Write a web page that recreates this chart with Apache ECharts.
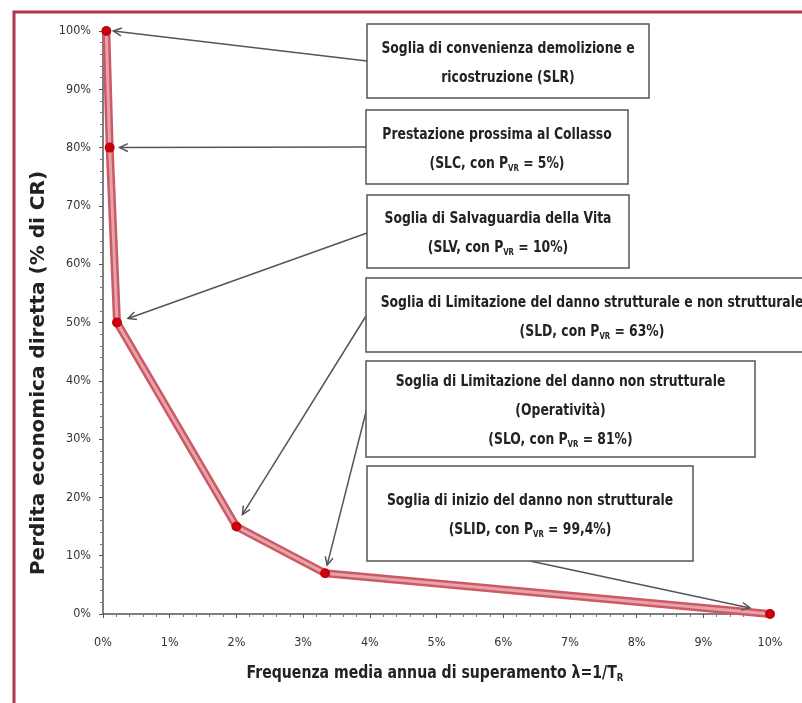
<!DOCTYPE html>
<html>
<head>
<meta charset="utf-8">
<script src="https://cdn.jsdelivr.net/npm/echarts@6/dist/echarts.min.js"></script>
<style>
html,body{margin:0;padding:0;background:#fff;}
#chart{width:802px;height:703px;}
</style>
</head>
<body>
<div id="chart"></div>
<script>
// ---- data ----
const freqValues = [0.05, 0.1, 0.21, 2, 3.33, 10];      // λ = 1/T_R (%)
const lossValues = [100, 80, 50, 15, 7, 0];             // % di CR
const xTickValues = [0, 1, 2, 3, 4, 5, 6, 7, 8, 9, 10];
const yTickValues = [0, 10, 20, 30, 40, 50, 60, 70, 80, 90, 100];
const boxLines = [
  ['Soglia di convenienza demolizione e', 'ricostruzione (SLR)'],
  ['Prestazione prossima al Collasso', '(SLC, con P{s|VR} = 5%)'],
  ['Soglia di Salvaguardia della Vita', '(SLV, con P{s|VR} = 10%)'],
  ['Soglia di Limitazione del danno strutturale e non strutturale', '(SLD, con P{s|VR} = 63%)'],
  ['Soglia di Limitazione del danno non strutturale', '(Operatività)', '(SLO, con P{s|VR} = 81%)'],
  ['Soglia di inizio del danno non strutturale', '(SLID, con P{s|VR} = 99,4%)']
];
const xTitle = 'Frequenza media annua di superamento λ=1/T';
const xTitleSub = 'R';
const yTitle = 'Perdita economica diretta (% di CR)';

// ---- layout (pixels) ----
const boxes = [
  {x: 367, y: 24, w: 282, h: 74},
  {x: 366, y: 110, w: 262, h: 74},
  {x: 367, y: 195, w: 262, h: 73},
  {x: 366, y: 278, w: 452, h: 74},
  {x: 366, y: 361, w: 389, h: 96},
  {x: 367, y: 466, w: 326, h: 95}
];
// arrow start (pixels) and tip offset relative to the data point pixel
const arrows = [
  {sx: 367, sy: 61, dx: 7, dy: 0},
  {sx: 366, sy: 147, dx: 10, dy: 0},
  {sx: 367, sy: 233, dx: 11, dy: -4},
  {sx: 366, sy: 316, dx: 6, dy: -12},
  {sx: 367, sy: 408, dx: 2, dy: -8},
  {sx: 530, sy: 561, dx: -20, dy: -6}
];

const condensed = "'DejaVu Sans Condensed','Liberation Sans Narrow',sans-serif";
const chart = echarts.init(document.getElementById('chart'), null, {renderer: 'canvas'});
const seriesData = freqValues.map((v, i) => [v, lossValues[i]]);

chart.setOption({
  backgroundColor: '#ffffff',
  animation: false,
  grid: {left: 103, right: 32, top: 31, bottom: 89},
  xAxis: {
    type: 'value', min: 0, max: 10, interval: 1,
    axisLine: {lineStyle: {color: '#555', width: 1.5}},
    axisTick: {show: true, length: 4, inside: false, lineStyle: {color: '#555'}},
    minorTick: {show: true, splitNumber: 5, length: 3, lineStyle: {color: '#777'}},
    splitLine: {show: false},
    axisLabel: {formatter: '{value}%', margin: 22, color: '#333', fontSize: 12.5, fontFamily: condensed}
  },
  yAxis: {
    type: 'value', min: 0, max: 100, interval: 10,
    axisLine: {show: true, lineStyle: {color: '#555', width: 1.5}},
    axisTick: {show: true, length: 4, lineStyle: {color: '#555'}},
    minorTick: {show: true, splitNumber: 5, length: 3, lineStyle: {color: '#777'}},
    splitLine: {show: false},
    axisLabel: {formatter: '{value}%', margin: 12, color: '#333', fontSize: 12.5, fontFamily: condensed}
  },
  series: [
    {type: 'line', data: seriesData, showSymbol: false, symbol: 'none',
     lineStyle: {color: '#cc5a66', width: 8}, z: 2, silent: true},
    {type: 'line', data: seriesData, symbol: 'circle', symbolSize: 10,
     itemStyle: {color: '#c8000c'},
     lineStyle: {color: '#e6a3aa', width: 3}, z: 3}
  ]
});

function arrowGraphics(sx, sy, tx, ty) {
  const ang = Math.atan2(ty - sy, tx - sx);
  const L = 9, spread = 0.45;
  const p1 = [tx - L * Math.cos(ang - spread), ty - L * Math.sin(ang - spread)];
  const p2 = [tx - L * Math.cos(ang + spread), ty - L * Math.sin(ang + spread)];
  return [
    {type: 'line', shape: {x1: sx, y1: sy, x2: tx, y2: ty}, style: {stroke: '#555', lineWidth: 1.5}, z: 10},
    {type: 'polyline', shape: {points: [p1, [tx, ty], p2]}, style: {stroke: '#555', lineWidth: 1.5, fill: null}, z: 10}
  ];
}

const gfx = [];
// outer frame
gfx.push({type: 'rect', shape: {x: 14, y: 12, width: 820, height: 720},
  style: {stroke: '#b0344e', lineWidth: 3, fill: null}, z: 1, silent: true});
// boxes
boxes.forEach((b, i) => {
  gfx.push({type: 'rect', shape: {x: b.x, y: b.y, width: b.w, height: b.h},
    style: {stroke: '#555', lineWidth: 1.5, fill: '#fff'}, z: 20});
  gfx.push({type: 'text', x: b.x + b.w / 2, y: b.y + b.h / 2 + 2, scaleX: 0.86, z: 21,
    style: {text: boxLines[i].join('\n'), align: 'center', verticalAlign: 'middle',
      font: "bold 16px " + condensed, fill: '#222', lineHeight: 29,
      rich: {s: {fontSize: 9, fontWeight: 'bold', fontFamily: condensed, fill: '#222', padding: [10, 0, 0, 0], lineHeight: 29}}}});
});
// arrows
arrows.forEach((a, i) => {
  const p = chart.convertToPixel({gridIndex: 0}, seriesData[i]);
  gfx.push(...arrowGraphics(a.sx, a.sy, p[0] + a.dx, p[1] + a.dy));
});
// axis titles
gfx.push({type: 'text', x: 435, y: 673, scaleX: 0.87, z: 21,
  style: {text: xTitle + '{s|' + xTitleSub + '}', align: 'center', verticalAlign: 'middle',
    font: "bold 18px " + condensed, fill: '#222',
    rich: {s: {fontSize: 11, fontWeight: 'bold', fontFamily: condensed, fill: '#222', padding: [10, 0, 0, 0]}}}});
gfx.push({type: 'text', x: 39, y: 373, rotation: Math.PI / 2, z: 21,
  style: {text: yTitle, align: 'center', verticalAlign: 'middle',
    font: "bold 20px 'DejaVu Sans','Liberation Sans',sans-serif", fill: '#222'}});
chart.setOption({graphic: {elements: gfx}});
</script>
</body>
</html>
